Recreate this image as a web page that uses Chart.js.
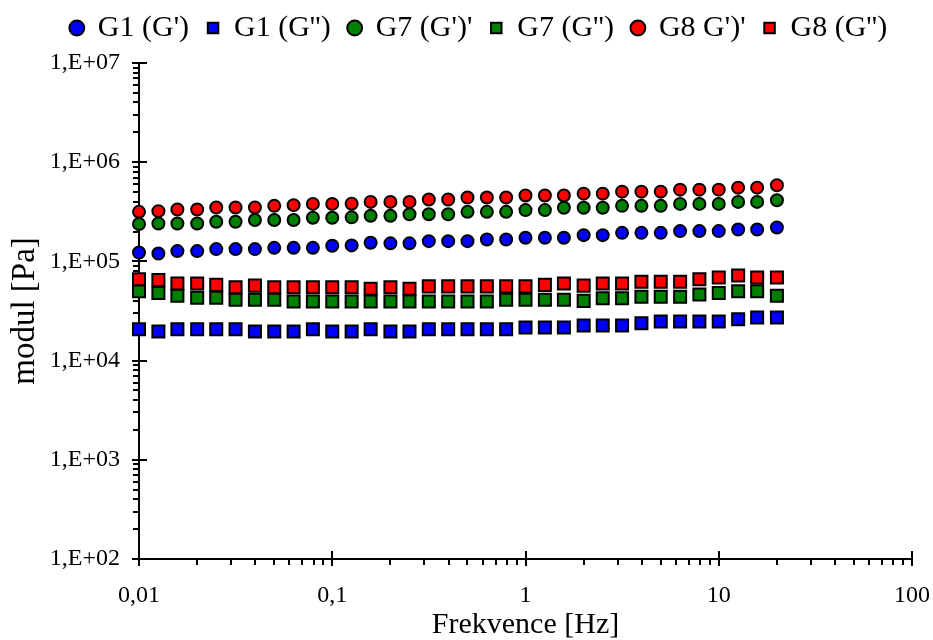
<!DOCTYPE html>
<html>
<head>
<meta charset="utf-8">
<script src="https://cdn.jsdelivr.net/npm/chart.js@4/dist/chart.umd.min.js"></script>
<style>
  html, body { margin: 0; padding: 0; background: #fff; }
  #wrap { width: 933px; height: 640px; }
</style>
</head>
<body>
<div id="wrap"><canvas id="chart" width="933" height="640"></canvas></div>
<script>
// frequency [Hz]
const freq = [0.01, 0.0126, 0.0158, 0.02, 0.0251, 0.0316, 0.0398, 0.0501, 0.0631, 0.0794,
    0.1, 0.126, 0.158, 0.2, 0.251, 0.316, 0.398, 0.501, 0.631, 0.794,
    1, 1.26, 1.58, 2, 2.51, 3.16, 3.98, 5.01, 6.31, 7.94,
    10, 12.6, 15.8, 20];

// moduli [Pa]
const g1Storage = [123000, 120000, 127000, 127000, 133000, 133000, 133000, 137000, 137000, 137000,
    144000, 145000, 154000, 152000, 152000, 160000, 160000, 160000, 166000, 166000,
    173000, 173000, 173000, 184000, 184000, 194000, 194000, 194000, 202000, 202000,
    202000, 210000, 210000, 220000];
const g1Loss = [20700, 19700, 20700, 20700, 20700, 20700, 19700, 19700, 19700, 20700,
    19700, 19700, 20700, 19700, 19700, 20700, 20700, 20700, 20700, 20700,
    21600, 21600, 21600, 22600, 22600, 22600, 23800, 24800, 24800, 24800,
    24800, 26100, 27200, 27200];
const g7Storage = [238000, 241000, 241000, 241000, 251000, 251000, 261000, 261000, 261000, 275000,
    275000, 278000, 288000, 288000, 299000, 299000, 299000, 316000, 316000, 316000,
    329000, 329000, 347000, 347000, 347000, 363000, 363000, 363000, 380000, 380000,
    380000, 398000, 398000, 414000];
const g7Loss = [50000, 48000, 45000, 43000, 43000, 41000, 41000, 41000, 39500, 39500,
    39500, 39500, 39500, 39500, 39500, 39500, 39500, 39500, 39500, 41000,
    41000, 41000, 41000, 40000, 42500, 42500, 44000, 44000, 44000, 46500,
    48000, 50000, 50000, 45000];
const g8Storage = [316000, 321000, 333000, 333000, 349000, 349000, 349000, 363000, 369000, 380000,
    380000, 381000, 398000, 398000, 398000, 420000, 420000, 440000, 440000, 440000,
    461000, 461000, 461000, 482000, 482000, 505000, 505000, 505000, 529000, 529000,
    529000, 554000, 554000, 586000];
const g8Loss = [66000, 65000, 60000, 60000, 58000, 55000, 57000, 55000, 55000, 55000,
    55000, 55000, 53000, 55000, 53000, 56000, 56000, 56000, 56000, 56000,
    56000, 58000, 60000, 57000, 60000, 60000, 62500, 62500, 62500, 66000,
    69000, 72000, 69000, 69000];

const seriesNames = ["G1 (G')", "G1 (G'')", "G7 (G')'", "G7 (G'')", "G8 G')'", "G8 (G'')"];

const xTicks = [0.01, 0.1, 1, 10, 100];
const xTickLabels = ['0,01', '0,1', '1', '10', '100'];
const yTicks = [1e2, 1e3, 1e4, 1e5, 1e6, 1e7];
const yTickLabels = ['1,E+02', '1,E+03', '1,E+04', '1,E+05', '1,E+06', '1,E+07'];

const FONT = "'Liberation Serif', 'Times New Roman', serif";

function pts(ys) {
    return freq.map((f, i) => ({ x: f, y: ys[i] }));
}

function series(label, ys, color, style, order) {
    const r = style === 'rect' ? 8.5 : 6;
    return {
        label: label,
        data: pts(ys),
        backgroundColor: color,
        borderColor: '#000',
        borderWidth: 2,
        pointStyle: style,
        pointRadius: r,
        pointHoverRadius: r,
        pointBorderWidth: 2,
        showLine: false,
        clip: false,
        order: order
    };
}

// tick marks: majors cross the axis, minors outside
const tickMarks = {
    id: 'tickMarks',
    beforeDatasetsDraw(chart) {
        const ctx = chart.ctx;
        const xs = chart.scales.x, ys = chart.scales.y;
        const x0 = chart.chartArea.left, y0 = chart.chartArea.bottom;
        ctx.save();
        ctx.strokeStyle = '#000';
        ctx.lineWidth = 2;
        ctx.beginPath();
        yTicks.forEach((v, i) => {
            const py = Math.round(ys.getPixelForValue(v));
            ctx.moveTo(x0 - 7, py); ctx.lineTo(x0 + 8, py);
            if (i < yTicks.length - 1) {
                for (let m = 2; m < 10; m++) {
                    const p = Math.round(ys.getPixelForValue(v * m));
                    ctx.moveTo(x0 - 6, p); ctx.lineTo(x0, p);
                }
            }
        });
        xTicks.forEach((v, i) => {
            const px = Math.round(xs.getPixelForValue(v));
            ctx.moveTo(px, y0 - 8); ctx.lineTo(px, y0 + 7);
            if (i < xTicks.length - 1) {
                for (let m = 2; m < 10; m++) {
                    const p = Math.round(xs.getPixelForValue(v * m));
                    ctx.moveTo(p, y0); ctx.lineTo(p, y0 + 6);
                }
            }
        });
        ctx.stroke();
        ctx.restore();
    }
};

// nudge the legend row to where it sits in the original
const legendShift = {
    id: 'legendShift',
    afterLayout(chart) {
        const lg = chart.legend;
        if (!lg) return;
        lg.left += 14; lg.right += 14;
        lg.top -= 10; lg.bottom -= 10;
    }
};

const ctx = document.getElementById('chart').getContext('2d');
new Chart(ctx, {
    type: 'scatter',
    data: {
        datasets: [
            series(seriesNames[0], g1Storage, '#0000ff', 'circle', 5),
            series(seriesNames[1], g1Loss, '#0000ff', 'rect', 4),
            series(seriesNames[2], g7Storage, '#008000', 'circle', 3),
            series(seriesNames[3], g7Loss, '#008000', 'rect', 2),
            series(seriesNames[4], g8Storage, '#ff0000', 'circle', 1),
            series(seriesNames[5], g8Loss, '#ff0000', 'rect', 0)
        ]
    },
    options: {
        responsive: false,
        animation: false,
        layout: { padding: { left: 0, right: 3, top: 5, bottom: 0 } },
        plugins: {
            tooltip: { enabled: false },
            legend: {
                position: 'top',
                labels: {
                    usePointStyle: true,
                    boxWidth: 12,
                    boxHeight: 10.5,
                    padding: 18,
                    color: '#000',
                    font: { family: FONT, size: 30 },
                    sort: (a, b) => a.datasetIndex - b.datasetIndex
                }
            }
        },
        scales: {
            x: {
                type: 'logarithmic',
                min: 0.01,
                max: 100,
                afterBuildTicks: (scale) => { scale.ticks = xTicks.map(v => ({ value: v })); },
                afterFit: (scale) => { scale.height = 81; },
                grid: { display: false, drawTicks: false },
                border: { display: true, color: '#000', width: 2 },
                ticks: {
                    color: '#000',
                    padding: 3,
                    maxRotation: 0,
                    autoSkip: false,
                    font: { family: FONT, size: 24, lineHeight: 2.8 },
                    callback: (v) => xTickLabels[xTicks.indexOf(v)]
                },
                title: {
                    display: true,
                    text: 'Frekvence [Hz]',
                    color: '#000',
                    font: { family: FONT, size: 30, lineHeight: 1.0 },
                    padding: { top: 0, bottom: 0 }
                }
            },
            y: {
                type: 'logarithmic',
                min: 1e2,
                max: 1e7,
                afterBuildTicks: (scale) => { scale.ticks = yTicks.map(v => ({ value: v })); },
                afterFit: (scale) => { scale.width = 139; },
                grid: { display: false, drawTicks: false },
                border: { display: true, color: '#000', width: 2 },
                ticks: {
                    color: '#000',
                    padding: 19,
                    autoSkip: false,
                    font: { family: FONT, size: 24 },
                    callback: (v) => yTickLabels[yTicks.indexOf(v)]
                },
                title: {
                    display: true,
                    text: 'modul [Pa]',
                    color: '#000',
                    font: { family: FONT, size: 33 },
                    padding: { top: 6, bottom: 0 }
                }
            }
        }
    },
    plugins: [tickMarks, legendShift]
});
</script>
</body>
</html>
